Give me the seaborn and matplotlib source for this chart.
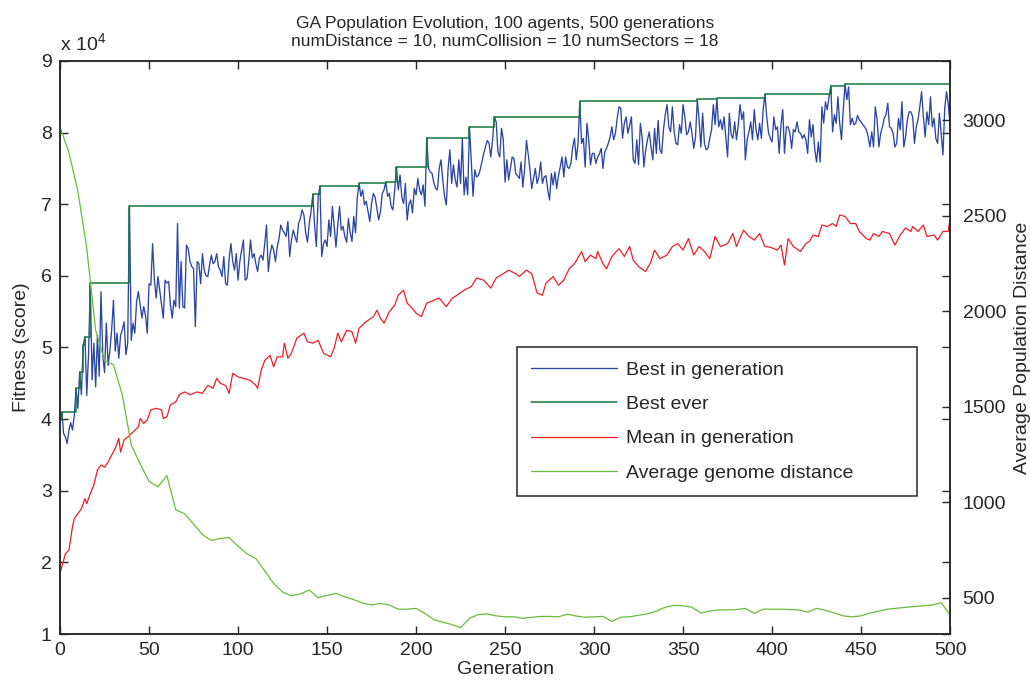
import numpy as np
import matplotlib
matplotlib.use("Agg")
import matplotlib.pyplot as plt
import seaborn as sns
from matplotlib.ticker import FixedLocator

# fitness values are in units of 1e4
generations = np.arange(0, 501)
best_in_generation = [
    3.99, 4.10, 3.80, 3.75, 3.66, 3.85, 3.95, 3.85, 4.05, 4.43,
    4.15, 4.66, 4.34, 5.03, 5.15, 4.33, 4.90, 5.90, 4.55, 5.06,
    4.45, 5.17, 4.60, 5.78, 4.90, 4.65, 5.34, 4.75, 4.96, 5.25,
    5.66, 4.95, 5.20, 4.85, 5.17, 5.25, 5.36, 4.90, 5.06, 6.97,
    5.10, 5.34, 5.20, 5.64, 5.78, 5.60, 5.41, 5.57, 5.45, 5.20,
    5.89, 5.87, 6.45, 5.95, 5.69, 5.99, 5.80, 5.60, 5.41, 5.94,
    5.90, 5.92, 5.60, 5.41, 5.66, 5.57, 6.73, 5.55, 6.20, 5.57,
    5.55, 6.43, 6.38, 6.20, 6.13, 6.10, 5.29, 6.20, 6.17, 5.89,
    6.31, 6.08, 6.00, 5.99, 6.15, 6.29, 6.17, 6.20, 6.31, 6.13,
    6.08, 5.99, 6.27, 5.89, 5.87, 6.25, 6.45, 6.20, 6.08, 6.31,
    5.94, 6.20, 6.36, 6.50, 5.94, 5.96, 6.20, 6.50, 6.25, 6.31,
    6.17, 6.06, 6.25, 6.29, 6.22, 6.45, 6.71, 6.06, 6.30, 6.43,
    6.36, 6.20, 6.40, 6.52, 6.71, 6.64, 6.60, 6.55, 6.76, 6.27,
    6.50, 6.64, 6.55, 6.47, 6.73, 6.80, 6.92, 6.85, 6.60, 6.47,
    6.73, 6.90, 7.14, 6.71, 6.41, 7.10, 7.26, 6.27, 6.45, 6.50,
    6.41, 6.78, 6.55, 6.97, 6.70, 6.40, 6.70, 6.97, 6.64, 6.69,
    6.55, 6.47, 6.80, 6.60, 6.48, 6.83, 6.60, 7.10, 7.29, 7.11,
    7.20, 6.99, 7.04, 6.90, 6.76, 7.01, 7.15, 7.10, 6.94, 6.78,
    6.90, 7.15, 7.20, 7.31, 7.11, 7.15, 6.97, 6.92, 7.20, 7.52,
    7.20, 7.41, 7.10, 7.01, 7.29, 6.78, 7.00, 7.06, 6.88, 7.22,
    7.13, 7.36, 7.20, 7.13, 7.27, 6.97, 7.93, 7.50, 7.45, 7.43,
    7.30, 7.22, 7.20, 7.50, 7.62, 7.34, 7.11, 6.99, 7.50, 7.76,
    7.29, 7.55, 7.34, 7.24, 7.62, 7.29, 7.92, 7.13, 7.38, 7.13,
    8.08, 7.62, 7.11, 7.48, 7.38, 7.40, 7.48, 7.59, 7.71, 7.80,
    7.89, 7.85, 7.66, 7.90, 8.22, 8.15, 7.73, 7.66, 8.06, 7.90,
    7.31, 7.62, 7.34, 7.50, 7.66, 7.64, 7.43, 7.40, 7.36, 7.59,
    7.24, 7.50, 7.89, 7.70, 7.48, 7.22, 7.36, 7.50, 7.29, 7.38,
    7.59, 7.29, 7.38, 7.40, 7.20, 7.06, 7.43, 7.27, 7.45, 7.22,
    7.40, 7.52, 7.66, 7.38, 7.66, 7.52, 7.50, 7.57, 7.80, 7.92,
    7.62, 7.85, 8.44, 7.85, 7.92, 7.52, 8.13, 7.90, 7.55, 7.71,
    7.71, 7.57, 7.66, 7.70, 7.78, 7.50, 7.73, 7.78, 7.85, 7.94,
    8.08, 7.90, 7.99, 8.20, 8.36, 8.34, 7.92, 8.13, 8.22, 7.99,
    8.10, 8.22, 7.62, 7.57, 7.90, 7.55, 8.13, 7.94, 7.52, 7.76,
    7.90, 8.01, 7.80, 7.62, 8.06, 7.71, 8.17, 7.76, 7.71, 8.04,
    8.25, 8.39, 8.08, 8.01, 8.36, 8.01, 7.85, 7.83, 8.11, 7.99,
    8.39, 8.22, 7.97, 8.01, 8.15, 7.99, 7.78, 7.94, 8.46, 8.18,
    7.80, 8.27, 7.85, 7.76, 7.78, 7.92, 8.04, 8.39, 8.11, 8.48,
    8.08, 8.18, 8.04, 8.22, 7.94, 7.66, 8.27, 7.97, 7.92, 8.15,
    7.90, 8.10, 8.39, 8.18, 8.29, 7.62, 7.90, 8.01, 8.15, 7.90,
    8.32, 8.04, 7.90, 8.13, 7.92, 8.32, 8.54, 8.22, 8.00, 7.92,
    7.87, 8.22, 8.04, 8.08, 7.71, 8.11, 8.32, 7.71, 8.08, 8.08,
    7.99, 7.78, 8.04, 8.01, 8.15, 8.01, 7.99, 7.92, 7.97, 7.90,
    7.71, 8.18, 7.94, 8.11, 7.76, 7.59, 7.87, 7.59, 8.36, 8.13,
    8.43, 8.32, 8.50, 8.655, 8.01, 8.25, 8.13, 8.50, 8.13, 7.90,
    8.32, 8.68, 8.46, 8.64, 8.11, 8.20, 8.11, 8.13, 8.24, 8.18,
    8.15, 8.11, 8.08, 8.04, 7.94, 7.80, 8.01, 7.80, 8.36, 8.18,
    7.80, 7.99, 8.08, 8.20, 8.25, 8.41, 8.08, 8.06, 7.99, 7.80,
    7.85, 8.20, 8.04, 8.43, 7.80, 7.94, 8.18, 8.29, 8.29, 8.22,
    7.85, 8.08, 8.18, 8.36, 8.57, 8.22, 7.94, 8.29, 8.11, 8.50,
    8.08, 8.20, 7.92, 7.85, 8.27, 7.99, 7.69, 8.34, 8.57, 8.39,
    8.11,
]

best_ever_gen = [0, 1, 9, 11, 13, 14, 17, 39, 142, 146, 168, 183, 189, 206,
                 230, 244, 292, 358, 369, 396, 433, 441, 500]
best_ever_val = [3.99, 4.10, 4.43, 4.66, 5.03, 5.15, 5.90, 6.97, 7.14, 7.26,
                 7.29, 7.31, 7.52, 7.93, 8.08, 8.22, 8.44, 8.465, 8.48, 8.54,
                 8.655, 8.68, 8.68]

mean_gen = [
    0, 3, 5, 7, 8, 10, 12, 14, 15, 17,
    19, 21, 23, 25, 27, 29, 31, 33, 34, 36,
    38, 41, 44, 45, 47, 49, 51, 54, 57, 58,
    60, 62, 65, 67, 70, 73, 77, 80, 81, 83,
    86, 88, 90, 93, 95, 97, 100, 103, 107, 110,
    111, 113, 115, 118, 120, 122, 125, 126, 128, 130,
    133, 137, 139, 142, 145, 148, 152, 154, 156, 158,
    161, 164, 166, 168, 172, 176, 178, 180, 182, 185,
    188, 190, 193, 195, 197, 200, 203, 206, 210, 213,
    217, 220, 223, 227, 231, 234, 238, 242, 245, 249,
    252, 256, 258, 262, 265, 268, 271, 273, 277, 280,
    283, 286, 289, 293, 295, 298, 301, 302, 305, 307,
    310, 314, 317, 320, 322, 325, 329, 332, 334, 337,
    341, 344, 347, 350, 353, 356, 359, 362, 365, 368,
    371, 375, 378, 380, 384, 387, 390, 393, 396, 399,
    403, 405, 407, 409, 412, 416, 419, 421, 423, 426,
    428, 431, 434, 436, 438, 441, 444, 447, 449, 453,
    455, 457, 460, 462, 466, 469, 472, 475, 478, 479,
    482, 485, 487, 491, 493, 496, 499, 500,
]
mean_val = [
    1.85, 2.12, 2.17, 2.50, 2.61, 2.68, 2.75, 2.89, 2.82, 2.96,
    3.08, 3.29, 3.36, 3.33, 3.40, 3.50, 3.59, 3.73, 3.54, 3.71,
    3.75, 3.82, 3.89, 4.01, 3.94, 3.99, 4.13, 4.15, 4.13, 4.01,
    4.03, 4.20, 4.24, 4.34, 4.38, 4.34, 4.38, 4.36, 4.40, 4.47,
    4.43, 4.57, 4.50, 4.47, 4.36, 4.64, 4.59, 4.57, 4.54, 4.47,
    4.43, 4.68, 4.82, 4.89, 4.73, 4.87, 4.87, 5.06, 4.85, 4.92,
    5.13, 5.20, 5.08, 5.06, 5.10, 4.92, 4.87, 4.99, 5.20, 5.08,
    5.24, 5.22, 5.06, 5.27, 5.36, 5.43, 5.52, 5.41, 5.34, 5.50,
    5.59, 5.73, 5.80, 5.62, 5.57, 5.48, 5.43, 5.62, 5.66, 5.69,
    5.57, 5.68, 5.73, 5.80, 5.85, 5.97, 5.94, 5.83, 5.97, 6.03,
    6.08, 6.03, 5.99, 6.08, 6.03, 5.76, 5.73, 5.90, 5.99, 5.87,
    5.94, 6.10, 6.17, 6.34, 6.20, 6.29, 6.24, 6.34, 6.17, 6.10,
    6.27, 6.38, 6.27, 6.41, 6.22, 6.13, 6.06, 6.20, 6.36, 6.24,
    6.29, 6.41, 6.45, 6.36, 6.52, 6.29, 6.41, 6.34, 6.24, 6.55,
    6.41, 6.45, 6.59, 6.41, 6.64, 6.55, 6.50, 6.59, 6.41, 6.40,
    6.36, 6.43, 6.15, 6.52, 6.41, 6.34, 6.45, 6.48, 6.57, 6.55,
    6.71, 6.69, 6.73, 6.69, 6.85, 6.83, 6.73, 6.73, 6.62, 6.52,
    6.50, 6.59, 6.55, 6.62, 6.59, 6.43, 6.57, 6.67, 6.62, 6.69,
    6.62, 6.71, 6.55, 6.57, 6.50, 6.62, 6.62, 6.80,
]

dist_gen = np.arange(0, 501, 5)
dist_val = [
    2965, 2830, 2630, 2330, 1900, 1740, 1720, 1560, 1300, 1200,
    1110, 1080, 1140, 960, 940, 885, 830, 800, 810, 815,
    770, 730, 705, 640, 575, 530, 510, 520, 540, 500,
    512, 522, 505, 490, 472, 462, 470, 462, 440, 440,
    444, 418, 385, 372, 360, 343, 392, 412, 415, 405,
    400, 400, 392, 398, 402, 402, 400, 414, 404, 398,
    400, 402, 376, 398, 400, 408, 416, 430, 450, 460,
    458, 450, 420, 430, 436, 436, 438, 444, 418, 440,
    440, 440, 438, 436, 425, 444, 434, 420, 405, 400,
    405, 420, 430, 440, 445, 450, 454, 458, 462, 474,
    410,
]

x_ticks = list(range(0, 501, 50))
left_ticks = list(range(1, 10))
right_ticks = [500, 1000, 1500, 2000, 2500, 3000]

c_best = "#2b46a3"
c_ever = "#14783f"
c_mean = "#ee1d25"
c_dist = "#68bd3a"

sns.set_style("ticks")
plt.rcParams["font.family"] = ["Liberation Sans", "DejaVu Sans"]
plt.rcParams["mathtext.fontset"] = "custom"
plt.rcParams["mathtext.rm"] = "Liberation Sans"
plt.rcParams["mathtext.it"] = "Liberation Sans"

fig = plt.figure(figsize=(10.3, 6.89), dpi=100)
ax = fig.add_axes([0.0583, 0.0798, 0.8641, 0.8317])
ax2 = ax.twinx()

sns.lineplot(x=generations, y=best_in_generation, ax=ax, color=c_best, lw=0.95,
             label="Best in generation", legend=False)
sns.lineplot(x=best_ever_gen, y=best_ever_val, ax=ax, color=c_ever, lw=1.1,
             drawstyle="steps-post", label="Best ever", legend=False)
sns.lineplot(x=mean_gen, y=mean_val, ax=ax, color=c_mean, lw=0.9,
             label="Mean in generation", legend=False)
sns.lineplot(x=dist_gen, y=dist_val, ax=ax2, color=c_dist, lw=0.9,
             label="Average genome distance", legend=False)

ax.set_xlim(0, 500)
ax.set_ylim(1, 9)
ax2.set_ylim(310, 3310)
ax.xaxis.set_major_locator(FixedLocator(x_ticks))
ax.yaxis.set_major_locator(FixedLocator(left_ticks))
ax2.yaxis.set_major_locator(FixedLocator(right_ticks))

fs = 14
ax.tick_params(direction="in", length=6, width=1, top=True, right=True,
               labelsize=fs, colors="#262626", pad=6)
ax2.tick_params(direction="in", length=6, width=1, labelsize=fs,
                colors="#262626", pad=9)
for a in (ax, ax2):
    for s in a.spines.values():
        s.set_linewidth(1.1)
        s.set_color("#262626")

ax.set_xlabel("Generation", fontsize=fs, labelpad=1)
ax.set_ylabel("Fitness (score)", fontsize=fs)
ax.yaxis.set_label_coords(-0.034, 0.5)
ax2.set_ylabel("Average Population Distance", fontsize=fs)
ax2.yaxis.set_label_coords(1.072, 0.5)
ax.set_title("GA Population Evolution, 100 agents, 500 generations\n"
             "numDistance = 10, numCollision = 10 numSectors = 18",
             fontsize=12.5, pad=11, linespacing=1.25)
ax.text(0.0, 1.012, r"x 10$^{4}$", transform=ax.transAxes, fontsize=fs,
        ha="left", va="bottom")

h1, l1 = ax.get_legend_handles_labels()
h2, l2 = ax2.get_legend_handles_labels()
leg = ax2.legend(h1 + h2, l1 + l2, loc="upper left",
                 bbox_to_anchor=(0.513, 0.246, 0.45, 0.255), mode="expand",
                 borderaxespad=0, fontsize=fs, handlelength=4.4,
                 handletextpad=0.5, labelspacing=0.85, borderpad=0.75,
                 fancybox=False, framealpha=1, edgecolor="#262626")
leg.get_frame().set_linewidth(1.1)

fig.savefig("out.png", dpi=100)
